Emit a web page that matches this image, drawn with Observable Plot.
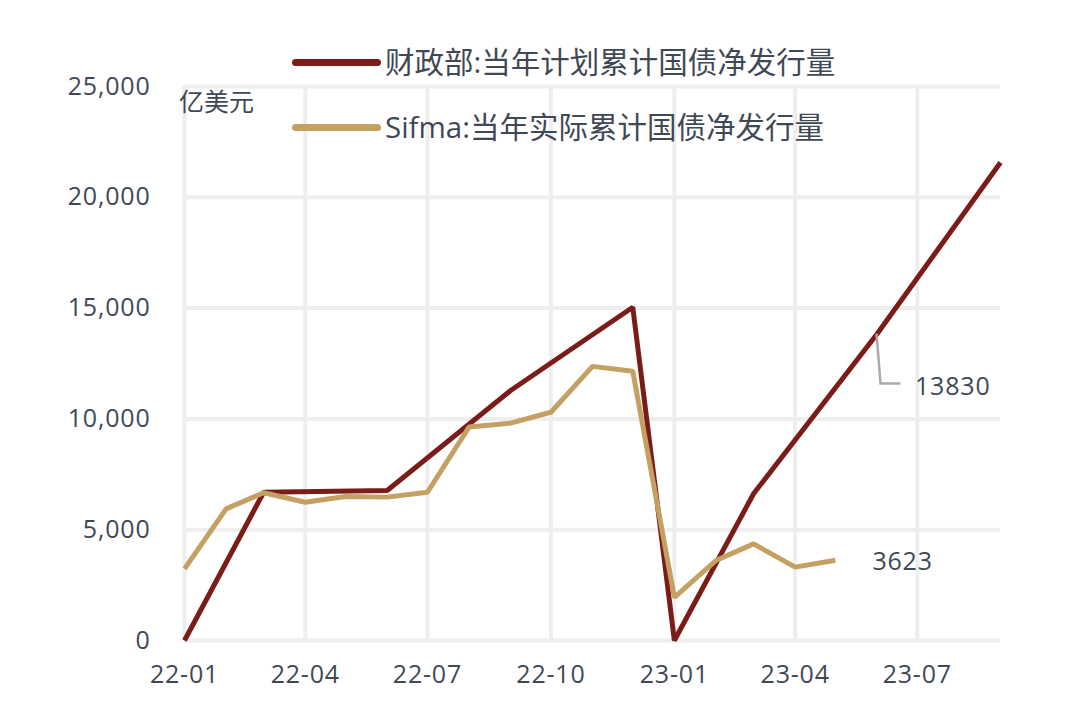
<!DOCTYPE html>
<html>
<head>
<meta charset="utf-8">
<script src="https://cdn.jsdelivr.net/npm/d3@7"></script>
<script src="https://cdn.jsdelivr.net/npm/@observablehq/plot@0.6"></script>
<style>
  html, body { margin: 0; padding: 0; background: #fff; }
  #wrap { position: relative; width: 1080px; height: 724px; font-family: "Open Sans", "Noto Sans CJK SC", sans-serif; color: #3f4955; }
  #wrap svg { position: absolute; left: 0; top: 0; }
  #wrap svg text { letter-spacing: 0.8px; }
  .leg-line { position: absolute; left: 292px; width: 89px; height: 7px; border-radius: 4px; }
  .leg-text { position: absolute; left: 385px; height: 40px; line-height: 40px; font-size: 29.5px; white-space: nowrap; }
  #unit { position: absolute; left: 179px; top: 86px; height: 30px; line-height: 30px; font-size: 25px; }
</style>
</head>
<body>
<div id="wrap"></div>
<script>
// ---- data ----
const seriesNames = ["财政部:当年计划累计国债净发行量", "Sifma:当年实际累计国债净发行量"];
const seriesColors = ["#7a1d19", "#c4a063"];
const unitLabel = "亿美元";

const planMonths = ["2022-01", "2022-03", "2022-06", "2022-09", "2022-12", "2023-01", "2023-03", "2023-06", "2023-09"];
const treasuryPlan = [0, 6690, 6770, 11280, 15040, 0, 6620, 13830, 21570];

const actualMonths = ["2022-01", "2022-02", "2022-03", "2022-04", "2022-05", "2022-06", "2022-07", "2022-08", "2022-09",
                      "2022-10", "2022-11", "2022-12", "2023-01", "2023-02", "2023-03", "2023-04", "2023-05"];
const sifmaActual = [3230, 5940, 6670, 6240, 6500, 6470, 6690, 9630, 9810, 10300, 12370, 12150, 1950, 3610, 4360, 3310, 3623];

const xTickLabels = ["2022-01", "2022-04", "2022-07", "2022-10", "2023-01", "2023-04", "2023-07"];
const xDomain = ["2022-01", "2023-09"];
const yTicks = [0, 5000, 10000, 15000, 20000, 25000];

const planLabelMonth = "2023-06";
const planLabelValue = 13830;
const actualLabelMonth = "2023-05";
const actualLabelValue = 3623;

// ---- build ----
const parse = d3.utcParse("%Y-%m");
const plan = planMonths.map((m, i) => ({date: parse(m), value: treasuryPlan[i]}));
const actual = actualMonths.map((m, i) => ({date: parse(m), value: sifmaActual[i]}));
const xTicks = xTickLabels.map(parse);
const planAnn = [{date: parse(planLabelMonth), value: planLabelValue}];
const actualAnn = [{date: parse(actualLabelMonth), value: actualLabelValue}];

// leader line for the plan annotation (pixel offsets from the data point)
function leader(index, scales) {
  const px = scales.x(planAnn[0].date), py = scales.y(planAnn[0].value);
  const p = d3.create("svg:path")
    .attr("d", `M${px},${py}L${px + 4},${py + 50}L${px + 24},${py + 50}`)
    .attr("fill", "none").attr("stroke", "#aaaaaa").attr("stroke-width", 2.5);
  return p.node();
}

const chart = Plot.plot({
  width: 1080,
  height: 724,
  marginLeft: 184,
  marginRight: 80,
  marginTop: 86,
  marginBottom: 84,
  style: {fontSize: "25px", fontFamily: "'Open Sans', 'Noto Sans CJK SC', sans-serif", color: "#3f4955", background: "transparent"},
  x: {type: "utc", domain: xDomain.map(parse), label: null},
  y: {domain: [0, 25000], label: null},
  marks: [
    Plot.gridY(yTicks, {stroke: "#eeeeee", strokeOpacity: 1, strokeWidth: 4}),
    Plot.gridX(xTicks, {stroke: "#eeeeee", strokeOpacity: 1, strokeWidth: 4}),
    Plot.axisY({ticks: yTicks, tickSize: 0, tickPadding: 34, tickFormat: d3.format(","), label: null}),
    Plot.axisX({ticks: xTicks, tickSize: 0, tickPadding: 25, tickFormat: d3.utcFormat("%y-%m"), label: null}),
    Plot.line(plan, {x: "date", y: "value", stroke: seriesColors[0], strokeWidth: 5, strokeLinejoin: "miter", strokeLinecap: "butt"}),
    Plot.line(actual, {x: "date", y: "value", stroke: seriesColors[1], strokeWidth: 5, strokeLinejoin: "miter", strokeLinecap: "butt"}),
    leader,
    Plot.text(planAnn, {x: "date", y: "value", text: d => String(d.value), dx: 38, dy: 53, textAnchor: "start", fill: "#3f4955"}),
    Plot.text(actualAnn, {x: "date", y: "value", text: d => String(d.value), dx: 37, dy: 2, textAnchor: "start", fill: "#3f4955"})
  ]
});

const wrap = document.getElementById("wrap");
wrap.appendChild(chart);

// legend overlay
const legendTops = [62, 127];
seriesNames.forEach((name, i) => {
  const l = document.createElement("div");
  l.className = "leg-line";
  l.style.background = seriesColors[i];
  l.style.top = (legendTops[i] - 3.5) + "px";
  wrap.appendChild(l);
  const t = document.createElement("div");
  t.className = "leg-text";
  t.textContent = name;
  t.style.top = (legendTops[i] - 20) + "px";
  wrap.appendChild(t);
});
const u = document.createElement("div");
u.id = "unit";
u.textContent = unitLabel;
wrap.appendChild(u);
</script>
</body>
</html>
